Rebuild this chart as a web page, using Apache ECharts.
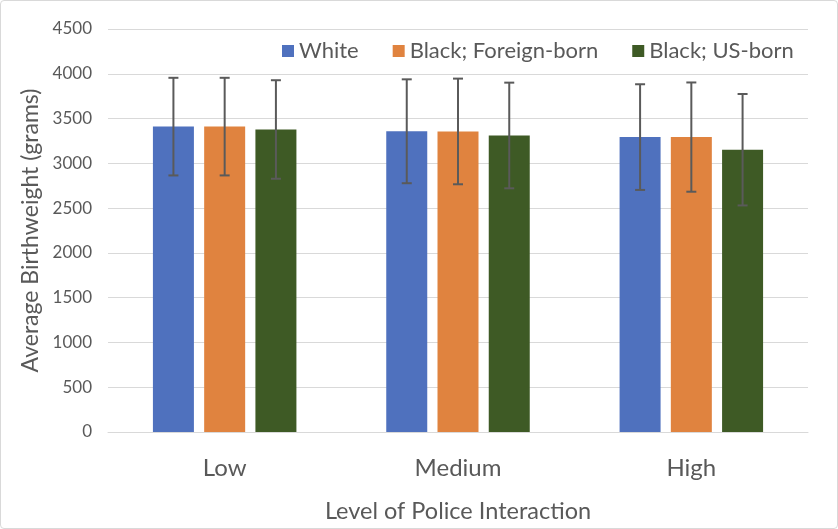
<!DOCTYPE html>
<html><head><meta charset="utf-8">
<script src="https://cdn.jsdelivr.net/npm/echarts@6/dist/echarts.min.js"></script>
<style>html,body{margin:0;padding:0;background:#fff}#c{width:838px;height:529px;box-sizing:border-box;border:1px solid #d9d9d9;border-radius:4px}</style>
</head><body><div id="c"></div>
<script>
const categories = ['Low', 'Medium', 'High'];
const seriesNames = ['White', 'Black; Foreign-born', 'Black; US-born'];
const whiteMean = [3410, 3358, 3293];
const foreignMean = [3410, 3356, 3293];
const usMean = [3378, 3311, 3152];
const whiteSD = [545, 580, 590];
const foreignSD = [545, 590, 610];
const usSD = [550, 590, 622];
const yTicks = [0, 500, 1000, 1500, 2000, 2500, 3000, 3500, 4000, 4500];

const colors = ['#4F71BE', '#E0833F', '#3E5A25'];
const means = [whiteMean, foreignMean, usMean];
const sds = [whiteSD, foreignSD, usSD];
const font = 'Lato, "Open Sans", sans-serif';

const chart = echarts.init(document.getElementById('c'));
const barSeries = seriesNames.map((n, i) => ({
  name: n, type: 'bar', data: means[i], barWidth: 41, barGap: '25%',
  itemStyle: { color: colors[i] }
}));
const errSeries = seriesNames.map((n, i) => ({
  type: 'custom', name: n + ' err', silent: true, z: 5,
  data: categories.map((c, j) => [j, means[i][j] - sds[i][j], means[i][j] + sds[i][j]]),
  renderItem: function (params, api) {
    const ci = api.value(0);
    const lo = api.coord([ci, api.value(1)]);
    const hi = api.coord([ci, api.value(2)]);
    const barW = 41, gap = 41 * 0.25;
    const total = 3 * barW + 2 * gap;
    const x = lo[0] - total / 2 + i * (barW + gap) + barW / 2;
    const cap = 5;
    const st = { stroke: '#5a5a5a', lineWidth: 2 };
    return { type: 'group', children: [
      { type: 'line', shape: { x1: x, y1: lo[1], x2: x, y2: hi[1] }, style: st },
      { type: 'line', shape: { x1: x - cap, y1: hi[1], x2: x + cap, y2: hi[1] }, style: st },
      { type: 'line', shape: { x1: x - cap, y1: lo[1], x2: x + cap, y2: lo[1] }, style: st }
    ]};
  }
}));

chart.setOption({
  animation: false,
  textStyle: { fontFamily: font },
  legend: {
    data: seriesNames, top: 34, left: 276, itemWidth: 12, itemHeight: 12, itemGap: 34,
    icon: 'rect', textStyle: { fontSize: 22, color: '#595959', fontFamily: font }
  },
  grid: { left: 107, right: 29, top: 28, bottom: 96, outerBoundsMode: 'none', containLabel: false },
  xAxis: {
    type: 'category', data: categories,
    axisLine: { lineStyle: { color: '#d9d9d9' } }, axisTick: { show: false },
    axisLabel: { fontSize: 24, color: '#595959', margin: 24, fontFamily: font },
    name: 'Level of Police Interaction', nameLocation: 'middle', nameGap: 67,
    nameTextStyle: { fontSize: 23.5, color: '#595959', fontFamily: font }
  },
  yAxis: {
    type: 'value', min: yTicks[0], max: yTicks[yTicks.length - 1], interval: 500,
    axisLabel: { fontSize: 17, color: '#595959', margin: 16, fontFamily: font, formatter: v => String(v) },
    splitLine: { lineStyle: { color: '#d9d9d9', width: 1 } },
    name: 'Average Birthweight (grams)', nameLocation: 'middle', nameGap: 62, nameRotate: 90,
    nameTextStyle: { fontSize: 23, color: '#595959', fontFamily: font }
  },
  series: barSeries.concat(errSeries)
});
</script></body></html>
